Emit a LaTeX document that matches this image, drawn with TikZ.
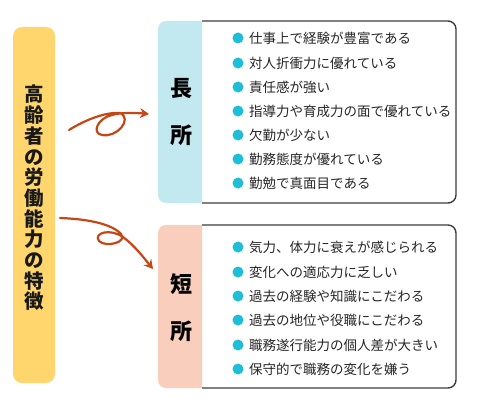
\documentclass[tikz,border=0pt]{standalone}
\usepackage{fontspec}
\newfontfamily\jpfont{Noto Sans CJK JP}
\usetikzlibrary{arrows.meta}
\definecolor{titleyellow}{RGB}{255,213,110}
\definecolor{meritblue}{RGB}{194,232,240}
\definecolor{demeritpink}{RGB}{249,206,188}
\definecolor{dotcyan}{RGB}{30,190,215}
\definecolor{arrowbrown}{RGB}{198,70,22}
\definecolor{framegray}{RGB}{60,60,60}

\begin{document}
\begin{tikzpicture}[x=1pt,y=-1pt,
    item/.style={anchor=west,inner sep=0pt,font=\jpfont\fontsize{13.5}{14}\selectfont,text=black!85},
    heading/.style={align=center,inner sep=0pt,font=\jpfont\bfseries\fontsize{22}{47}\selectfont},
    swirl/.style={draw=arrowbrown,line width=2.2pt,line cap=round,line join=round,-{Stealth[length=9pt,width=10pt]}}]
    \useasboundingbox (0,0) rectangle (480,420);

    % title bar
    \fill[titleyellow,rounded corners=9pt] (13,27) rectangle (55,383);
    \node[align=center,inner sep=0pt,font=\jpfont\bfseries\fontsize{19.5}{20.7}\selectfont,text=black!90] (title) at (34,198)
        {高\\齢\\者\\の\\労\\働\\能\\力\\の\\特\\徴};

    % strengths
    \fill[meritblue,rounded corners=8pt] (202,21) -- (158,21) -- (158,203) -- (202,203);
    \draw[framegray,line width=1.4pt,rounded corners=8pt] (202,21) -- (456,21) -- (456,203) -- (202,203);
    \node[heading] (merit) at (181,112) {長\\所};

    \node[item] (m1) at (249,38)  {仕事上で経験が豊富である};
    \node[item] (m2) at (249,63)  {対人折衝力に優れている};
    \node[item] (m3) at (249,87)  {責任感が強い};
    \node[item] (m4) at (249,111) {指導力や育成力の面で優れている};
    \node[item] (m5) at (249,135) {欠勤が少ない};
    \node[item] (m6) at (249,159) {勤務態度が優れている};
    \node[item] (m7) at (249,183) {勤勉で真面目である};

    % weaknesses
    \fill[demeritpink,rounded corners=8pt] (202,225) -- (158,225) -- (158,388) -- (202,388);
    \draw[framegray,line width=1.4pt,rounded corners=8pt] (202,225) -- (456,225) -- (456,388) -- (202,388);
    \node[heading] (demerit) at (181,308) {短\\所};

    \node[item] (d1) at (249,247) {気力、体力に衰えが感じられる};
    \node[item] (d2) at (249,272) {変化への適応力に乏しい};
    \node[item] (d3) at (249,296) {過去の経験や知識にこだわる};
    \node[item] (d4) at (249,320) {過去の地位や役職にこだわる};
    \node[item] (d5) at (249,345) {職務遂行能力の個人差が大きい};
    \node[item] (d6) at (249,369) {保守的で職務の変化を嫌う};

    % bullets
    \fill[dotcyan] ([xshift=-11pt]m1.west) circle (5.5pt);
    \fill[dotcyan] ([xshift=-11pt]m2.west) circle (5.5pt);
    \fill[dotcyan] ([xshift=-11pt]m3.west) circle (5.5pt);
    \fill[dotcyan] ([xshift=-11pt]m4.west) circle (5.5pt);
    \fill[dotcyan] ([xshift=-11pt]m5.west) circle (5.5pt);
    \fill[dotcyan] ([xshift=-11pt]m6.west) circle (5.5pt);
    \fill[dotcyan] ([xshift=-11pt]m7.west) circle (5.5pt);
    \fill[dotcyan] ([xshift=-11pt]d1.west) circle (5.5pt);
    \fill[dotcyan] ([xshift=-11pt]d2.west) circle (5.5pt);
    \fill[dotcyan] ([xshift=-11pt]d3.west) circle (5.5pt);
    \fill[dotcyan] ([xshift=-11pt]d4.west) circle (5.5pt);
    \fill[dotcyan] ([xshift=-11pt]d5.west) circle (5.5pt);
    \fill[dotcyan] ([xshift=-11pt]d6.west) circle (5.5pt);

    % looped arrows
    \coordinate (upStart) at (69,130);
    \coordinate (upEnd) at (149,114);
    \coordinate (downStart) at (60,218);
    \coordinate (downEnd) at (153,269);
    \draw[swirl] (upStart) .. controls (85,120) and (105,112) .. (120,113)
        .. controls (133,119) and (117,138) .. (102,135)
        .. controls (91,133) and (98,118) .. (112,115)
        .. controls (122,112) and (138,113) .. (upEnd);
    \draw[swirl] (downStart) .. controls (88,219) and (112,224) .. (121,234)
        .. controls (128,242) and (106,248) .. (99,241)
        .. controls (93,233) and (110,228) .. (123,237)
        .. controls (135,246) and (144,258) .. (downEnd);
\end{tikzpicture}
\end{document}
